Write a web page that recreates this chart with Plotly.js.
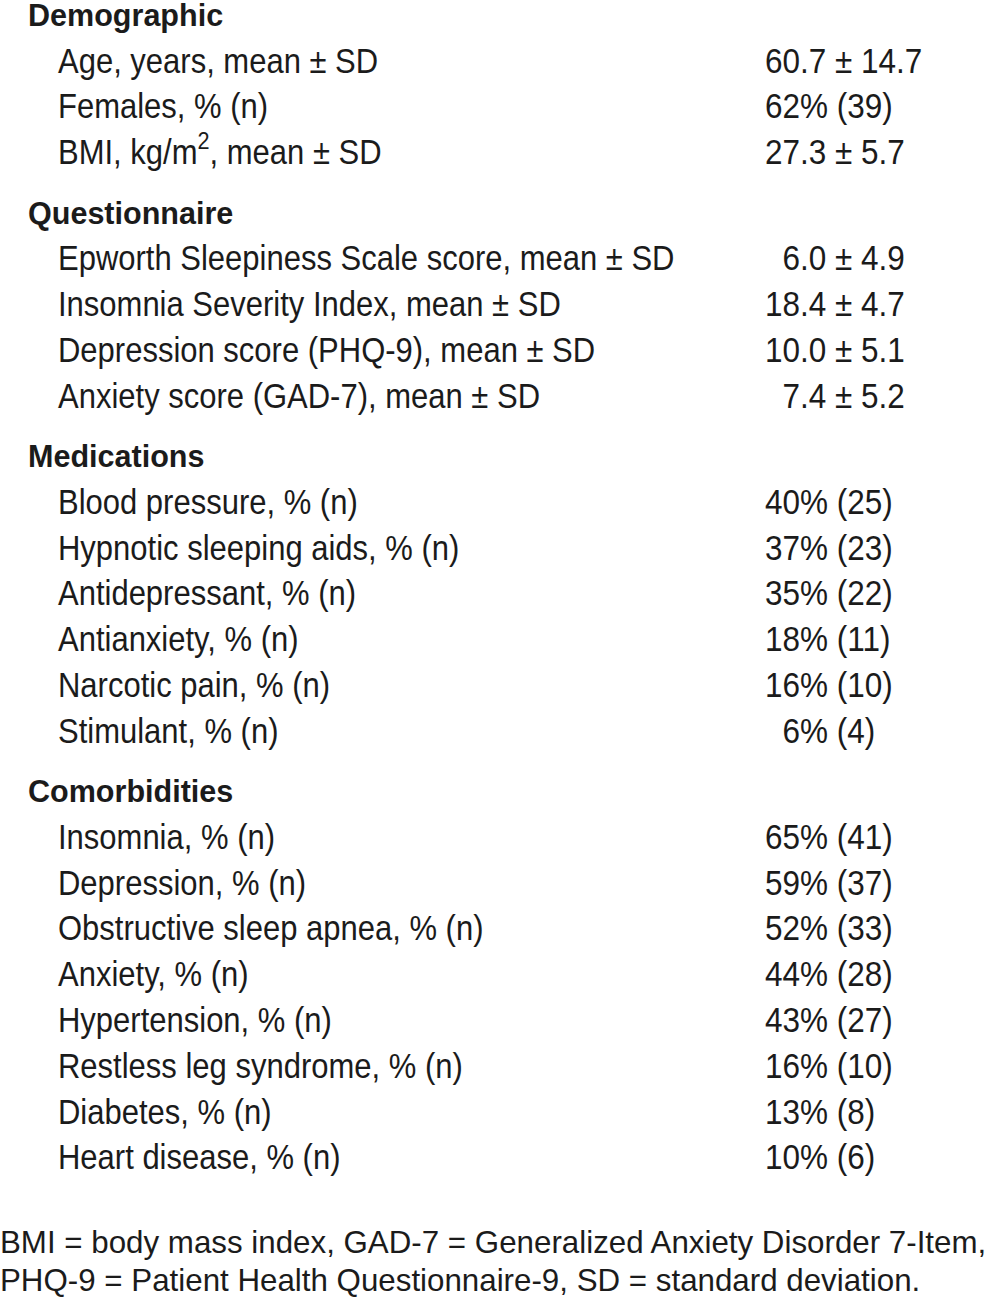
<!DOCTYPE html>
<html>
<head>
<meta charset="utf-8">
<script src="https://cdn.plot.ly/plotly-3.0.1.min.js"></script>
<style>html,body{margin:0;padding:0;background:#fff;}#chart{width:985px;height:1301px;}</style>
</head>
<body>
<div id="chart"></div>
<script>
// ---- data ----
const sections = ["Demographic", "Questionnaire", "Medications", "Comorbidities"];
const demographicLabels = ["Age, years, mean ± SD", "Females, % (n)", "BMI, kg/m<sup>2</sup>, mean ± SD"];
const demographicValues = ["60.7 ± 14.7", "62% (39)", "27.3 ± 5.7"];
const questionnaireLabels = ["Epworth Sleepiness Scale score, mean ± SD", "Insomnia Severity Index, mean ± SD", "Depression score (PHQ-9), mean ± SD", "Anxiety score (GAD-7), mean ± SD"];
const questionnaireValues = ["\u20076.0 ± 4.9", "18.4 ± 4.7", "10.0 ± 5.1", "\u20077.4 ± 5.2"];
const medicationLabels = ["Blood pressure, % (n)", "Hypnotic sleeping aids, % (n)", "Antidepressant, % (n)", "Antianxiety, % (n)", "Narcotic pain, % (n)", "Stimulant, % (n)"];
const medicationValues = ["40% (25)", "37% (23)", "35% (22)", "18% (11)", "16% (10)", "\u20076% (4)"];
const comorbidityLabels = ["Insomnia, % (n)", "Depression, % (n)", "Obstructive sleep apnea, % (n)", "Anxiety, % (n)", "Hypertension, % (n)", "Restless leg syndrome, % (n)", "Diabetes, % (n)", "Heart disease, % (n)"];
const comorbidityValues = ["65% (41)", "59% (37)", "52% (33)", "44% (28)", "43% (27)", "16% (10)", "13% (8)", "10% (6)"];
const footnoteLines = ["BMI = body mass index, GAD-7 = Generalized Anxiety Disorder 7-Item,", "PHQ-9 = Patient Health Questionnaire-9, SD = standard deviation."];

const sectionLabels = [demographicLabels, questionnaireLabels, medicationLabels, comorbidityLabels];
const sectionValues = [demographicValues, questionnaireValues, medicationValues, comorbidityValues];

// ---- layout constants ----
const W = 985, H = 1301;
const FONT = "'Liberation Sans', Arial, Helvetica, sans-serif";
const INK = "#1b1b1b";
const X_HEAD = 28, X_LABEL = 58, X_VALUE = 765;
const TOP = 18, ROW = 45.8, GAP = 14.5;
const FOOT_TOP = 1245, FOOT_ROW = 38.5;

const hx = [], hy = [], ht = [];
const lx = [], ly = [], lt = [];
const vx = [], vy = [], vt = [];
let row = 0;
sections.forEach((s, si) => {
  hx.push(X_HEAD); hy.push(TOP + row * ROW + si * GAP); ht.push(s);
  row++;
  sectionLabels[si].forEach((lab, j) => {
    const y = TOP + row * ROW + si * GAP;
    lx.push(X_LABEL); ly.push(y); lt.push(lab);
    vx.push(X_VALUE); vy.push(y); vt.push(sectionValues[si][j]);
    row++;
  });
});
const fx = [], fy = [], ftxt = [];
footnoteLines.forEach((t, i) => { fx.push(0); fy.push(FOOT_TOP + i * FOOT_ROW); ftxt.push(t); });

function textTrace(x, y, t, bold, size) {
  return {
    type: "scatter", mode: "text", x: x, y: y, text: t,
    textposition: "middle right", hoverinfo: "skip", showlegend: false, cliponaxis: false,
    textfont: { family: FONT, size: size, color: INK, weight: bold ? "bold" : "normal" }
  };
}

const data = [
  textTrace(hx, hy, ht, true, 32),
  textTrace(lx, ly, lt, false, 35),
  textTrace(vx, vy, vt, false, 35),
  textTrace(fx, fy, ftxt, false, 31)
];
// horizontal condensing per trace (the reference uses a narrow face)
const SCALE_X = [0.955, 0.886, 0.90, 1.01];

const layout = {
  width: W, height: H,
  margin: { l: 0, r: 0, t: 0, b: 0 },
  paper_bgcolor: "#fff", plot_bgcolor: "#fff",
  xaxis: { range: [0, W], visible: false, fixedrange: true },
  yaxis: { range: [H, 0], visible: false, fixedrange: true },
  showlegend: false
};

Plotly.newPlot("chart", data, layout, { staticPlot: true, displayModeBar: false }).then(gd => {
  const traces = gd.querySelectorAll(".scatterlayer .trace");
  traces.forEach((tr, i) => {
    const s = SCALE_X[i];
    if (s === 1) return;
    tr.querySelectorAll(".textpoint text").forEach(t => {
      const x = parseFloat(t.getAttribute("x")) || 0;
      t.setAttribute("transform", `translate(${x},0) scale(${s},1) translate(${-x},0)`);
    });
  });
});
</script>
</body>
</html>
